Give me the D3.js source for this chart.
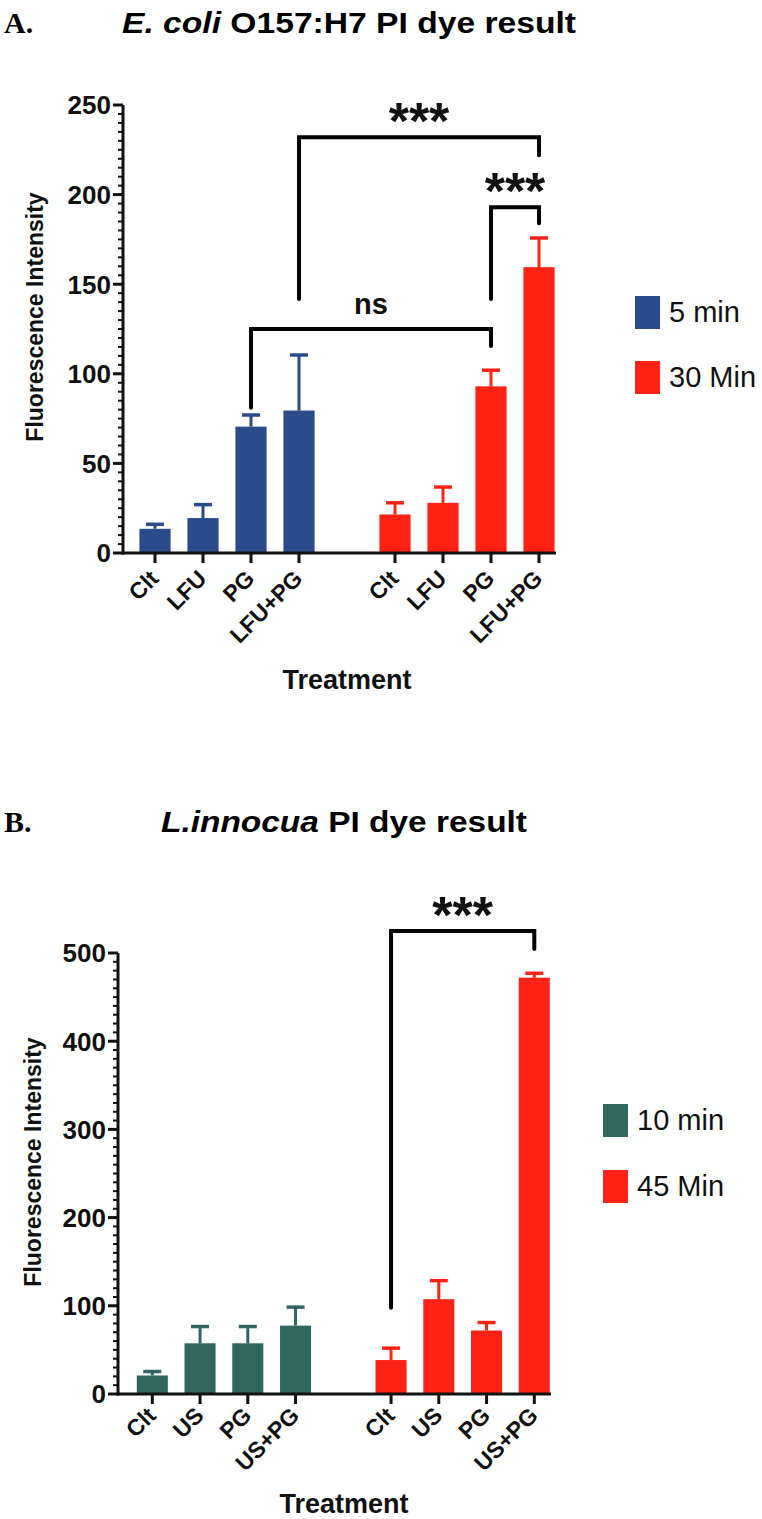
<!DOCTYPE html>
<html><head><meta charset="utf-8">
<script src="https://cdn.jsdelivr.net/npm/d3@7"></script>
<style>body{margin:0;background:#fff}svg{display:block}</style></head>
<body><svg id="c" width="762" height="1519"></svg>
<script>
// ---- data ----
const treatmentsA = ["Clt","LFU","PG","LFU+PG"];
const treatmentsB = ["Clt","US","PG","US+PG"];
const seriesA = ["5 min","30 Min"];
const seriesB = ["10 min","45 Min"];
const valuesA5  = [13.5, 19.5, 70.5, 79.5];
const errorsA5  = [2.5, 7.5, 6.5, 31];
const valuesA30 = [21.5, 28, 93, 159.5];
const errorsA30 = [6.5, 8.8, 9, 16.3];
const valuesB10 = [21, 57.5, 57.5, 77.5];
const errorsB10 = [4.5, 19, 19, 21];
const valuesB45 = [38.5, 107.5, 72, 472];
const errorsB45 = [13.5, 21, 9, 5];
const ticksA = [0,50,100,150,200,250];
const ticksB = [0,100,200,300,400,500];
// brackets: [group,index] endpoints, bar height, left foot, right foot, label
const bracketsA = [
  {a:[0,3], b:[1,3], y:232, ya:141.7, yb:222, label:"***"},
  {a:[1,2], b:[1,3], y:193, ya:141.7, yb:184, label:"***"},
  {a:[0,2], b:[1,2], y:125, ya:81, yb:115.5, label:"ns"}
];
const bracketsB = [
  {a:[1,0], b:[1,3], y:525, ya:97.7, yb:504.5, label:"***"}
];

const svg = d3.select("#c");
const FONT = "'Liberation Sans', Arial, sans-serif";

function panel(cfg){
  const g = svg.append("g");
  const y = d3.scaleLinear().domain(cfg.domain).range([cfg.y0, cfg.y1]);
  const keys = [];
  cfg.treatments.forEach((t,i)=>keys.push("0|"+i));
  keys.push("gap");
  cfg.treatments.forEach((t,i)=>keys.push("1|"+i));
  const x = d3.scalePoint().domain(keys).range(cfg.xr);
  const bw = x.step()*0.65;

  // panel letter and title
  g.append("text").attr("x", cfg.letterX).attr("y", cfg.titleY)
    .attr("font-family","'Liberation Serif', 'Times New Roman', serif").attr("font-weight","bold")
    .attr("font-size", 30).text(cfg.letter);
  const tt = g.append("text").attr("x", cfg.titleX).attr("y", cfg.titleY)
    .attr("font-family", FONT).attr("font-weight","bold").attr("font-size", 30)
    .attr("textLength", cfg.titleLen).attr("lengthAdjust","spacingAndGlyphs");
  tt.append("tspan").attr("font-style","italic").text(cfg.titleItalic);
  tt.append("tspan").text(cfg.titleRest);

  // bars
  const groups = [cfg.vals0, cfg.vals1];
  const errs = [cfg.err0, cfg.err1];
  groups.forEach((vals, gi)=>{
    const col = cfg.colors[gi];
    vals.forEach((v,i)=>{
      const cx = x(gi+"|"+i);
      g.append("rect").attr("x", cx-bw/2).attr("y", y(v)).attr("width", bw)
        .attr("height", y(0)-y(v)).attr("fill", col);
      const top = y(v+errs[gi][i]);
      g.append("line").attr("x1",cx).attr("x2",cx).attr("y1",y(v)).attr("y2",top)
        .attr("stroke",col).attr("stroke-width",3);
      g.append("line").attr("x1",cx-9).attr("x2",cx+9).attr("y1",top).attr("y2",top)
        .attr("stroke",col).attr("stroke-width",3.5);
    });
  });

  // y axis
  const ax = g.append("g").attr("transform",`translate(${cfg.axisX},0)`);
  const minor = d3.range(cfg.domain[0], cfg.domain[1]+0.001, cfg.minorStep);
  ax.selectAll("line.mi").data(minor).join("line").attr("class","mi")
    .attr("x1",-5).attr("x2",0).attr("y1",d=>y(d)).attr("y2",d=>y(d))
    .attr("stroke","#111").attr("stroke-width",2);
  ax.selectAll("line.ma").data(cfg.ticks).join("line").attr("class","ma")
    .attr("x1",-10).attr("x2",0).attr("y1",d=>y(d)).attr("y2",d=>y(d))
    .attr("stroke","#111").attr("stroke-width",3);
  ax.selectAll("text").data(cfg.ticks).join("text")
    .attr("x",-12).attr("y",d=>y(d)).attr("dy","0.36em").attr("text-anchor","end")
    .attr("font-family",FONT).attr("font-weight","bold").attr("font-size",26).attr("fill","#111")
    .text(d=>d);
  ax.append("line").attr("x1",0).attr("x2",0).attr("y1",y(cfg.domain[0])+1.5).attr("y2",y(cfg.domain[1]))
    .attr("stroke","#111").attr("stroke-width",3);

  // x axis
  g.append("line").attr("x1",cfg.axisX-1.5).attr("x2",cfg.xAxisEnd).attr("y1",y(0)).attr("y2",y(0))
    .attr("stroke","#111").attr("stroke-width",3);
  keys.filter(k=>k!=="gap").forEach(k=>{
    const cx = x(k);
    const [gi,i] = k.split("|").map(Number);
    g.append("line").attr("x1",cx).attr("x2",cx).attr("y1",y(0)).attr("y2",y(0)+10)
      .attr("stroke","#111").attr("stroke-width",3);
    g.append("text").attr("transform",`translate(${cx+5},${y(0)+cfg.labOff}) rotate(-45)`)
      .attr("text-anchor","end").attr("font-family",FONT).attr("font-weight","bold")
      .attr("font-size",23).attr("fill","#111").text(cfg.treatments[i]);
  });

  // axis titles
  g.append("text").attr("transform",`translate(${cfg.yLabX},${cfg.yLabY}) rotate(-90)`)
    .attr("text-anchor","middle").attr("font-family",FONT).attr("font-weight","bold")
    .attr("font-size",23).attr("fill","#111").text("Fluorescence Intensity");
  g.append("text").attr("x",cfg.xLabX).attr("y",cfg.xLabY).attr("text-anchor","middle")
    .attr("font-family",FONT).attr("font-weight","bold").attr("font-size",27).attr("fill","#111")
    .text("Treatment");

  // brackets
  cfg.brackets.forEach(b=>{
    const xa = x(b.a[0]+"|"+b.a[1]), xb = x(b.b[0]+"|"+b.b[1]);
    const path = d3.path();
    path.moveTo(xa, y(b.ya)); path.lineTo(xa, y(b.y)); path.lineTo(xb, y(b.y)); path.lineTo(xb, y(b.yb));
    g.append("path").attr("d",path.toString()).attr("fill","none").attr("stroke","#000")
      .attr("stroke-width",4).attr("stroke-linecap","round").attr("stroke-linejoin","miter");
    const mid = (xa+xb)/2;
    if (b.label === "ns") {
      g.append("text").attr("x",mid).attr("y",y(b.y)-15).attr("text-anchor","middle")
        .attr("font-family",FONT).attr("font-weight","bold").attr("font-size",29).attr("fill","#111").text(b.label);
    } else {
      g.append("text").attr("x",mid).attr("y",y(b.y)+2).attr("text-anchor","middle")
        .attr("font-family",FONT).attr("font-weight","bold").attr("font-size",52).attr("fill","#111").text(b.label);
    }
  });

  // legend
  cfg.series.forEach((s,i)=>{
    const ly = cfg.legY + i*cfg.legGap;
    g.append("rect").attr("x",cfg.legX).attr("y",ly-16).attr("width",25).attr("height",33)
      .attr("fill",cfg.colors[i]);
    g.append("text").attr("x",cfg.legX+34).attr("y",ly).attr("dy","0.36em")
      .attr("font-family",FONT).attr("font-size",29).attr("fill","#111").text(s);
  });
}

panel({
  letter:"A.", letterX:4, titleX:122, titleY:33, titleLen:454, titleItalic:"E. coli", titleRest:" O157:H7 PI dye result",
  domain:[0,250], y0:553, y1:105, ticks:ticksA, minorStep:5, axisX:123,
  treatments:treatmentsA, xr:[155,539], xAxisEnd:556, labOff:27,
  vals0:valuesA5, err0:errorsA5, vals1:valuesA30, err1:errorsA30,
  colors:["#2b4b8c","#fe2216"], series:seriesA,
  yLabX:43, yLabY:317, xLabX:347, xLabY:689,
  brackets:bracketsA, legX:635, legY:312, legGap:65
});
panel({
  letter:"B.", letterX:4, titleX:161, titleY:832, titleLen:366, titleItalic:"L.innocua", titleRest:" PI dye result",
  domain:[0,500], y0:1394, y1:953, ticks:ticksB, minorStep:10, axisX:118,
  treatments:treatmentsB, xr:[152.3,534.3], xAxisEnd:551, labOff:23,
  vals0:valuesB10, err0:errorsB10, vals1:valuesB45, err1:errorsB45,
  colors:["#2f6760","#fe2216"], series:seriesB,
  yLabX:41, yLabY:1162, xLabX:344, xLabY:1513,
  brackets:bracketsB, legX:603, legY:1120, legGap:66
});
</script></body></html>
